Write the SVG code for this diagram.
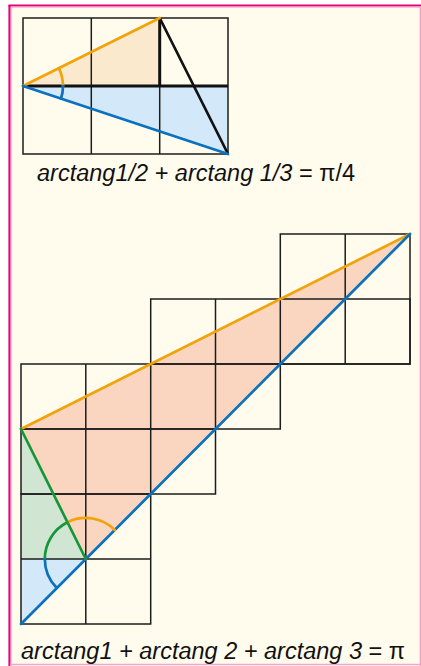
<svg xmlns="http://www.w3.org/2000/svg" width="421" height="666" viewBox="0 0 421 666">
<style>
.grid{fill:none;stroke:#1c1c1c;stroke-width:1.5}
.thick{fill:none;stroke:#111;stroke-width:3}
.org{fill:none;stroke:#f0a30a;stroke-width:2.7;stroke-linecap:round}
.blu{fill:none;stroke:#0b70bd;stroke-width:2.7;stroke-linecap:round}
.grn{fill:none;stroke:#16963a;stroke-width:2.7;stroke-linecap:round}
.lbl{font-family:"Liberation Sans",Arial,sans-serif;font-size:23.5px;font-style:italic;fill:#111}
.up{font-style:normal}
</style>
<rect x="0" y="0" width="421" height="666" fill="#ffffff"/>
<rect x="9" y="5" width="412" height="660" fill="#fffcee"/>
<line x1="8.5" y1="5.5" x2="421" y2="5.5" stroke="#e6007e" stroke-width="2.2"/>
<line x1="9.5" y1="5" x2="9.5" y2="666" stroke="#e6007e" stroke-width="2.2"/>
<line x1="11" y1="7.2" x2="421" y2="7.2" stroke="#f7a8cd" stroke-width="1"/>
<line x1="11.2" y1="7" x2="11.2" y2="666" stroke="#f7a8cd" stroke-width="1"/>
<line x1="420.3" y1="7" x2="420.3" y2="666" stroke="#f5a3c9" stroke-width="1.4"/>
<line x1="10" y1="664.5" x2="421" y2="664.5" stroke="#f5a3c9" stroke-width="1.4"/>

<g id="top-figure">
  <polygon points="23,86 159.7,18 159.7,86" fill="#fbe9cd"/>
  <polygon points="23,86 228,154 228,86" fill="#d3e8f8"/>
  <g class="grid">
    <rect x="23" y="18" width="205" height="136"/>
    <line x1="91.3" y1="18" x2="91.3" y2="154"/>
    <line x1="159.7" y1="86" x2="159.7" y2="154"/>
  </g>
  <line class="thick" x1="23" y1="86" x2="228" y2="86"/>
  <line class="thick" x1="159.7" y1="18" x2="159.7" y2="86"/>
  <line x1="159.7" y1="18" x2="228" y2="154" stroke="#111" stroke-width="2.7"/>
  <line class="org" x1="23" y1="86" x2="159.7" y2="18"/>
  <line class="blu" x1="23" y1="86" x2="228" y2="154"/>
  <path class="org" d="M63,86 A40,40 0 0 0 58.8,68.2"/>
  <path class="blu" d="M63,86 A40,40 0 0 1 61,98.6"/>
</g>
<text id="top-label" class="lbl" x="37" y="181">arctang1/2 + arctang 1/3<tspan class="up"> = π/4</tspan></text>

<g id="bottom-figure">
  <polygon points="21,429 410,234 85.8,559" fill="#fad6c1"/>
  <polygon points="21,429 21,559 85.8,559" fill="#d1e6d2"/>
  <polygon points="21,559 85.8,559 21,624" fill="#d3e8f8"/>
  <g class="grid">
    <rect x="280.3" y="234" width="129.7" height="130"/>
    <rect x="150.7" y="299" width="259.3" height="65"/>
    <line x1="215.5" y1="299" x2="215.5" y2="364"/>
    <line x1="345.2" y1="234" x2="345.2" y2="364"/>
    <rect x="21" y="364" width="259.3" height="65"/>
    <line x1="85.8" y1="364" x2="85.8" y2="429"/>
    <line x1="150.7" y1="364" x2="150.7" y2="429"/>
    <line x1="215.5" y1="364" x2="215.5" y2="429"/>
    <rect x="21" y="429" width="194.5" height="65"/>
    <line x1="85.8" y1="429" x2="85.8" y2="494"/>
    <line x1="150.7" y1="429" x2="150.7" y2="494"/>
    <rect x="21" y="494" width="129.7" height="130"/>
    <line x1="85.8" y1="494" x2="85.8" y2="624"/>
    <line x1="21" y1="559" x2="150.7" y2="559"/>
  </g>
  <line class="org" x1="21" y1="429" x2="410" y2="234"/>
  <line class="blu" x1="21" y1="624" x2="410" y2="234"/>
  <line class="grn" x1="21" y1="429" x2="85.8" y2="559"/>
  <path class="org" d="M67.5,522.3 A41,41 0 0 1 114.8,530"/>
  <path class="grn" d="M67.5,522.3 A41,41 0 0 0 44.8,559"/>
  <path class="blu" d="M44.8,559 A41,41 0 0 0 56.8,588"/>
</g>
<text id="bottom-label" class="lbl" x="21" y="659">arctang1 + arctang 2 + arctang 3<tspan class="up"> = π</tspan></text>
</svg>
